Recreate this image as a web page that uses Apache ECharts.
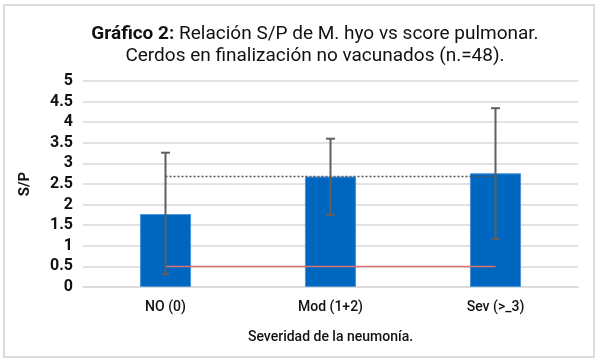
<!DOCTYPE html>
<html><head><meta charset="utf-8">
<script src="https://cdn.jsdelivr.net/npm/echarts@6/dist/echarts.min.js"></script>
<style>html,body{margin:0;padding:0;background:#fff}#c{width:600px;height:363px}</style>
</head><body><div id="c"></div>
<script>
const categories = ['NO (0)', 'Mod (1+2)', 'Sev (>_3)'];
const means = [1.77, 2.68, 2.76];
const errLow = [0.31, 1.75, 1.17];
const errHigh = [3.26, 3.60, 4.34];
const refLow = [0.5, 0.5, 0.5];
const refHigh = [2.68, 2.68, 2.68];
const yTicks = [0, 0.5, 1, 1.5, 2, 2.5, 3, 3.5, 4, 4.5, 5];

const chart = echarts.init(document.getElementById('c'));
const errData = categories.map((c, i) => [i, errLow[i], errHigh[i]]);
chart.setOption({
  animation: false,
  graphic: [{type:'rect', shape:{x:4,y:5,width:590,height:352}, style:{fill:'none', stroke:'#dcdcdc', lineWidth:2}, silent:true}],
  title: {
    left: 310, top: 18, textAlign: 'center',
    text: '{b|Gráfico 2:} Relación S/P de M. hyo vs score pulmonar.\nCerdos en finalización no vacunados (n.=48).',
    textStyle: {
      fontFamily: 'Roboto', fontSize: 19, fontWeight: 'normal', color: '#111', lineHeight: 22,
      rich: {b: {fontFamily:'Roboto', fontSize: 19, fontWeight: 'bold', color:'#111', lineHeight: 22}}
    }
  },
  grid: {left: 83, right: 22, top: 81, bottom: 76},
  xAxis: {
    type: 'category', data: categories,
    name: 'Severidad de la neumonía.', nameLocation: 'middle', nameGap: 43,
    nameTextStyle: {fontFamily:'Roboto', fontSize: 14, fontWeight: 500, color: '#111'},
    axisLine: {lineStyle: {color: '#d9d9d9', width: 1.5}},
    axisTick: {show: false},
    axisLabel: {fontFamily:'Roboto', fontSize: 14, fontWeight: 500, color: '#111', margin: 13}
  },
  yAxis: {
    type: 'value', min: 0, max: 5, interval: 0.5,
    name: 'S/P', nameLocation: 'middle', nameGap: 50, nameRotate: 90,
    nameTextStyle: {fontFamily:'Roboto', fontSize: 15, fontWeight: 'bold', color: '#111'},
    axisLine: {show: false}, axisTick: {show: false},
    splitLine: {lineStyle: {color: '#d9d9d9', width: 1.5}},
    axisLabel: {fontFamily:'Roboto', fontSize: 16, fontWeight: 'bold', color: '#111', margin: 10,
      formatter: v => yTicks.includes(v) ? String(v) : ''}
  },
  series: [
    {type: 'bar', data: means, barWidth: '31%',
     itemStyle: {color: '#0067c0', borderColor: '#4b94da', borderWidth: 1}},
    {type: 'line', data: refLow, symbol: 'none', z: 5,
     lineStyle: {color: '#e07070', width: 1.5}},
    {type: 'line', data: refHigh, symbol: 'none', z: 5,
     lineStyle: {color: '#555', width: 1.5, type: [2, 2]}},
    {type: 'custom', data: errData, z: 10,
     renderItem: function (params, api) {
       const x = api.value(0);
       const lo = api.coord([x, api.value(1)]);
       const hi = api.coord([x, api.value(2)]);
       const w = 4.5;
       const st = {stroke: '#5f5f5f', lineWidth: 2};
       return {type: 'group', children: [
         {type: 'line', shape: {x1: lo[0], y1: lo[1], x2: hi[0], y2: hi[1]}, style: st},
         {type: 'line', shape: {x1: lo[0]-w, y1: lo[1], x2: lo[0]+w, y2: lo[1]}, style: st},
         {type: 'line', shape: {x1: hi[0]-w, y1: hi[1], x2: hi[0]+w, y2: hi[1]}, style: st}
       ]};
     }}
  ]
});
</script></body></html>
